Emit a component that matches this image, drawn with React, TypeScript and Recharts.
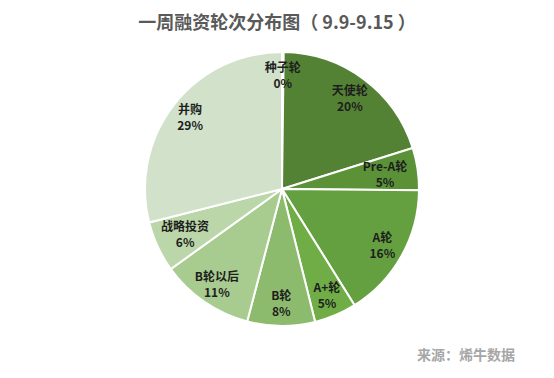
import React from 'react';
import { PieChart, Pie, Cell } from 'recharts';

const categories = ['种子轮', '天使轮', 'Pre-A轮', 'A轮', 'A+轮', 'B轮', 'B轮以后', '战略投资', '并购'];
const shares = [0.2, 20, 5, 16, 5, 8, 11, 6, 29];
const colors = ['#548235', '#548235', '#5b9238', '#64a040', '#70ad47', '#8dbb6e', '#a8cc8f', '#bbd7a9', '#d2e2ca'];
const labelRadiusFactor = [0.83, 0.83, 0.76, 0.84, 0.84, 0.83, 0.84, 0.78, 0.85];

const data = categories.map((name, i) => ({ name, value: shares[i] }));

const RADIAN = Math.PI / 180;
const FONT = '"Noto Sans CJK SC", "Microsoft YaHei", sans-serif';

const renderLabel = (props: any) => {
  const { cx, cy, midAngle, outerRadius, index, value, name } = props;
  const r = outerRadius * labelRadiusFactor[index];
  const x = cx + r * Math.cos(-midAngle * RADIAN);
  const y = cy + r * Math.sin(-midAngle * RADIAN);
  return (
    <g>
      <text x={x} y={y - 3} textAnchor="middle" fill="#1e1e1e" fontSize={12} fontWeight="bold" fontFamily={FONT}>
        {name}
      </text>
      <text x={x} y={y + 13} textAnchor="middle" fill="#1e1e1e" fontSize={12} fontWeight="bold" fontFamily={FONT}>
        {Math.round(value) + '%'}
      </text>
    </g>
  );
};

export default function App() {
  return (
    <div style={{ position: 'absolute', left: 0, top: 0, width: 554, height: 378, background: '#fff', fontFamily: FONT }}>
      <div style={{ position: 'absolute', left: 0, top: 8, width: 554, textAlign: 'center', fontSize: 18, fontWeight: 'bold', color: '#595959' }}>
        一周融资轮次分布图（ 9.9-9.15 ）
      </div>
      <PieChart width={554} height={378} margin={{ top: 0, right: 0, bottom: 0, left: 0 }}>
        <Pie
          data={data}
          dataKey="value"
          nameKey="name"
          cx={282}
          cy={189}
          outerRadius={137}
          startAngle={90}
          endAngle={-270}
          stroke="#ffffff"
          strokeWidth={2}
          label={renderLabel}
          labelLine={false}
          isAnimationActive={false}
        >
          {data.map((d, i) => (
            <Cell key={d.name} fill={colors[i]} />
          ))}
        </Pie>
      </PieChart>
      <div style={{ position: 'absolute', left: 417, top: 344, fontSize: 14, fontWeight: 'bold', color: '#a6a6a6' }}>
        来源：烯牛数据
      </div>
    </div>
  );
}
